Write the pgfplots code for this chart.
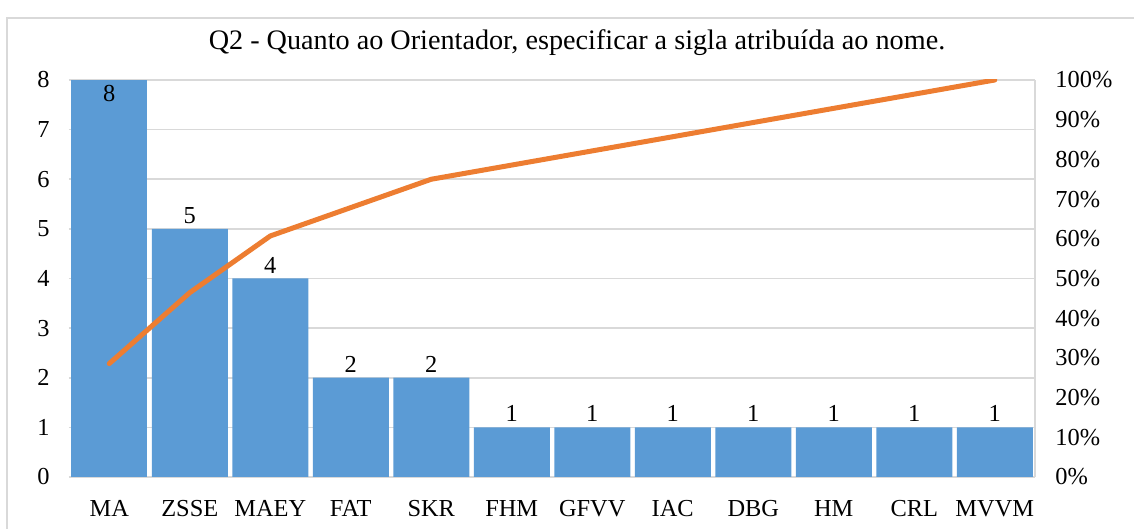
\documentclass[border=0pt]{standalone}
\usepackage{fontspec}
\setmainfont{Liberation Serif}
\usepackage{pgfplots}
\pgfplotsset{compat=1.18}
\definecolor{barblue}{HTML}{5B9BD5}
\definecolor{lineorange}{HTML}{ED7D31}
\definecolor{gridgray}{HTML}{D9D9D9}
\begin{document}
\begin{tikzpicture}[x=1pt,y=1pt]
\useasboundingbox (0,0) rectangle (567,264.5);
\draw[gridgray, line width=0.6pt] (3.5,-5) rectangle (580,255.5);
\node[font=\fontsize{14.1}{16}\selectfont, anchor=center] at (288.5,243) {Q2 - Quanto ao Orientador, especificar a sigla atribuída ao nome.};
\begin{axis}[
  at={(34.5pt,26pt)}, anchor=south west, scale only axis,
  width=483pt, height=198.5pt,
  xmin=-0.5, xmax=11.5, ymin=0, ymax=8,
  xtick={0,...,11},
  xticklabels={MA,ZSSE,MAEY,FAT,SKR,FHM,GFVV,IAC,DBG,HM,CRL,MVVM},
  ytick={0,...,8},
  ymajorgrids, grid style={gridgray, line width=0.8pt},
  axis line style={draw=none}, major tick length=0pt, tick style={draw=none},
  /pgf/number format/assume math mode=true,
  ticklabel style={font=\fontsize{12.2}{14}\selectfont},
  yticklabel style={inner sep=0pt, anchor=east, xshift=-9.5pt},
  xticklabel style={inner sep=0pt, anchor=base, yshift=-20pt},
  clip=false,
]
\addplot[ybar, bar width=38pt, bar shift=0pt, fill=barblue, draw=none,
  nodes near coords,
  nodes near coords style={font=\fontsize{12.2}{14}\selectfont, inner sep=0pt, anchor=north, yshift=-2.5pt}]
  coordinates {(0,8)};
\addplot[ybar, bar width=38pt, bar shift=0pt, fill=barblue, draw=none,
  nodes near coords,
  nodes near coords style={font=\fontsize{12.2}{14}\selectfont, inner sep=0pt, anchor=south, yshift=2.5pt}]
  coordinates {(1,5) (2,4) (3,2) (4,2) (5,1) (6,1) (7,1) (8,1) (9,1) (10,1) (11,1)};
\end{axis}
\begin{axis}[
  at={(34.5pt,26pt)}, anchor=south west, scale only axis,
  width=483pt, height=198.5pt,
  xmin=-0.5, xmax=11.5, ymin=0, ymax=100,
  axis x line=none, axis y line*=right,
  ytick={0,10,...,100},
  yticklabel={\pgfmathprintnumber{\tick}\%},
  axis line style={gridgray, line width=0.8pt},
  major tick length=0pt, tick style={draw=none},
  /pgf/number format/assume math mode=true,
  ticklabel style={font=\fontsize{12.2}{14}\selectfont},
  yticklabel style={inner sep=0pt, anchor=west, xshift=10pt},
]
\addplot[lineorange, line width=2.5pt, mark=none, line cap=round, line join=round]
  coordinates {(0,28.57) (1,46.43) (2,60.71) (3,67.86) (4,75.00) (5,78.57) (6,82.14) (7,85.71) (8,89.29) (9,92.86) (10,96.43) (11,100)};
\end{axis}
\end{tikzpicture}
\end{document}
